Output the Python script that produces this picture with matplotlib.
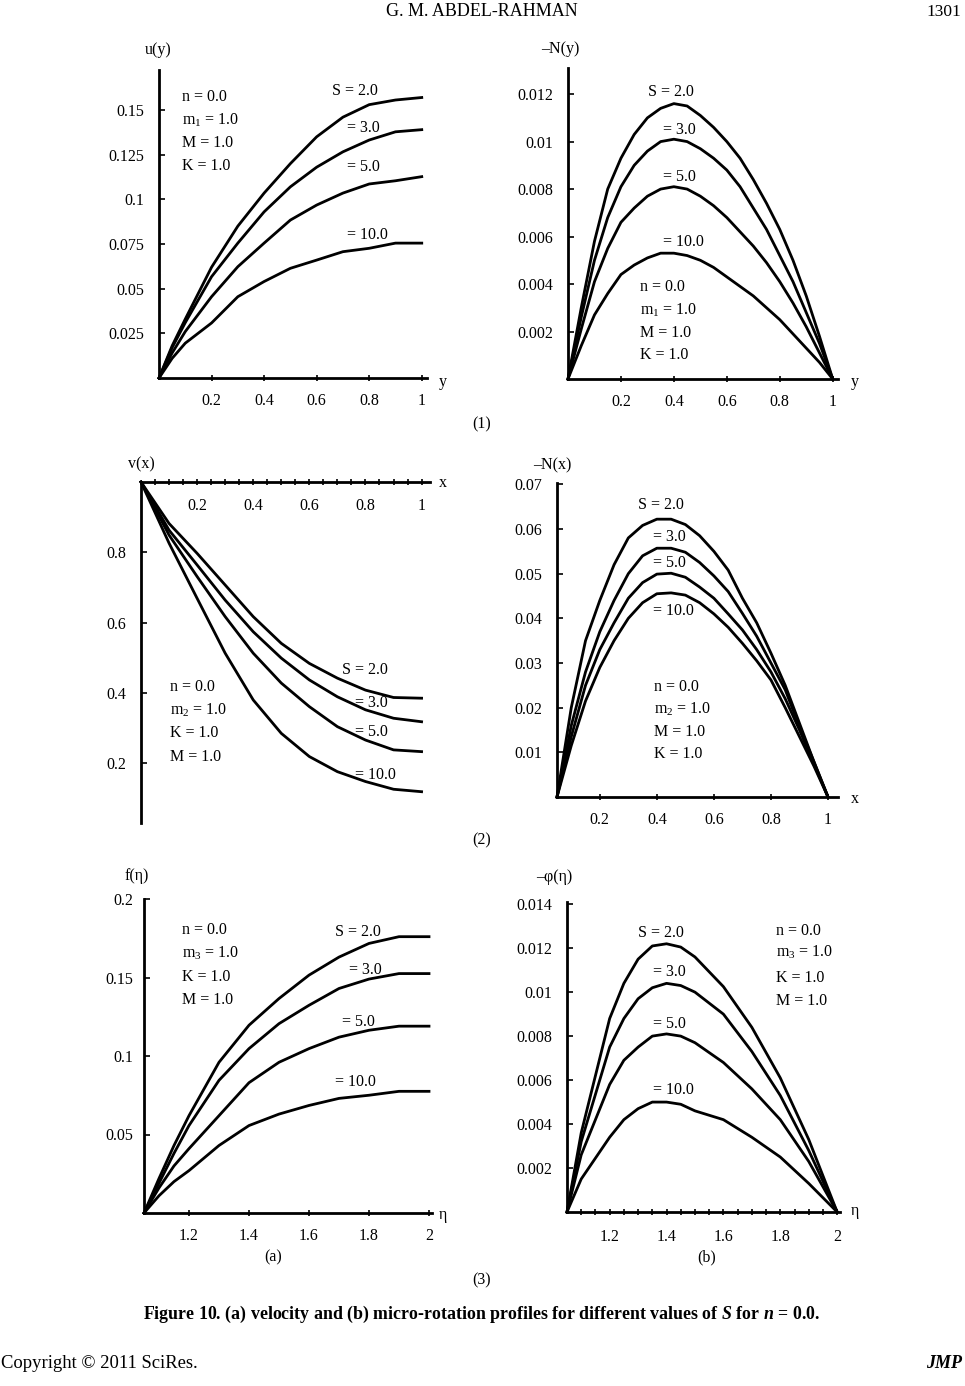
import matplotlib
matplotlib.use("Agg")
import matplotlib.pyplot as plt

plt.rcParams['font.family'] = ['Liberation Serif', 'DejaVu Serif']
plt.rcParams['mathtext.fontset'] = 'custom'
plt.rcParams['mathtext.rm'] = 'Liberation Serif'
plt.rcParams['mathtext.it'] = 'Liberation Serif:italic:bold'
plt.rcParams['mathtext.bf'] = 'Liberation Serif:bold'

W, H = 965, 1386
FS = 11.5

# ---------------- data ----------------
S_labels = ["S = 2.0", "= 3.0", "= 5.0", "= 10.0"]

# (1a) u(y)
y1 = [0.0, 0.05, 0.1, 0.2, 0.3, 0.4, 0.5, 0.6, 0.7, 0.8, 0.9, 1.0]
u_S2 = [0, 0.018, 0.033, 0.062, 0.085, 0.1035, 0.120, 0.135, 0.146, 0.153, 0.1556, 0.157]
u_S3 = [0, 0.017, 0.031, 0.0567, 0.0755, 0.093, 0.107, 0.118, 0.1266, 0.1332, 0.1378, 0.139]
u_S5 = [0, 0.014, 0.026, 0.0455, 0.0623, 0.0755, 0.0884, 0.0968, 0.1035, 0.1086, 0.1104, 0.1127]
u_S10 = [0, 0.011, 0.0195, 0.0308, 0.0455, 0.054, 0.0614, 0.066, 0.0707, 0.0726, 0.0755, 0.0755]

# (1b) -N(y)
y2 = [0.0, 0.05, 0.1, 0.15, 0.2, 0.25, 0.3, 0.35, 0.4, 0.45, 0.5, 0.55, 0.6, 0.65,
      0.7, 0.75, 0.8, 0.85, 0.9, 0.95, 1.0]
Ny_S2 = [0, 0.0030, 0.0058, 0.0080, 0.0093, 0.0103, 0.0110, 0.0114, 0.0116, 0.0115,
         0.0111, 0.0106, 0.0100, 0.0093, 0.0084, 0.0074, 0.0063, 0.0050, 0.0035, 0.0018, 0]
Ny_S3 = [0, 0.0026, 0.0050, 0.0068, 0.0081, 0.0090, 0.0096, 0.0100, 0.0101, 0.0100,
         0.0097, 0.0093, 0.0088, 0.0081, 0.0072, 0.0063, 0.0052, 0.0041, 0.0028, 0.0015, 0]
Ny_S5 = [0, 0.0021, 0.0041, 0.0055, 0.0066, 0.0072, 0.0077, 0.0080, 0.0081, 0.0080,
         0.0077, 0.0073, 0.0068, 0.0062, 0.0056, 0.0049, 0.0041, 0.0032, 0.0022, 0.0011, 0]
Ny_S10 = [0, 0.0014, 0.0027, 0.0036, 0.0044, 0.0048, 0.0051, 0.0053, 0.0053, 0.0052,
          0.0050, 0.0047, 0.0043, 0.0039, 0.0035, 0.0030, 0.0025, 0.0019, 0.0013, 0.0007, 0]

# (2a) v(x)
x3 = [0.0, 0.1, 0.2, 0.3, 0.4, 0.5, 0.6, 0.7, 0.8, 0.9, 1.0]
v_S2 = [1.0, 0.882, 0.797, 0.707, 0.617, 0.541, 0.484, 0.442, 0.408, 0.387, 0.385]
v_S3 = [1.0, 0.863, 0.764, 0.664, 0.574, 0.499, 0.437, 0.389, 0.352, 0.328, 0.318]
v_S5 = [1.0, 0.849, 0.731, 0.617, 0.513, 0.428, 0.361, 0.304, 0.266, 0.238, 0.233]
v_S10 = [1.0, 0.826, 0.669, 0.513, 0.380, 0.285, 0.219, 0.176, 0.148, 0.126, 0.119]

# (2b) -N(x)
x4 = [0.05, 0.1, 0.15, 0.2, 0.25, 0.3, 0.35, 0.4, 0.45, 0.5, 0.55, 0.6, 0.65, 0.7,
      0.75, 0.8, 0.85, 0.9, 0.95, 1.0]
Nx_S2 = [0, 0.020, 0.035, 0.044, 0.052, 0.058, 0.0608, 0.0622, 0.0622, 0.061, 0.0585,
         0.055, 0.0508, 0.0445, 0.039, 0.0322, 0.025, 0.0165, 0.008, 0]
Nx_S3 = [0, 0.016, 0.028, 0.037, 0.044, 0.050, 0.054, 0.0557, 0.0557, 0.0548, 0.0525,
         0.0495, 0.046, 0.0411, 0.036, 0.030, 0.024, 0.0157, 0.008, 0]
Nx_S5 = [0, 0.0135, 0.025, 0.033, 0.039, 0.0445, 0.048, 0.0499, 0.0501, 0.0492, 0.047,
         0.0445, 0.041, 0.0374, 0.033, 0.028, 0.022, 0.015, 0.0075, 0]
Nx_S10 = [0, 0.0115, 0.0215, 0.029, 0.035, 0.040, 0.0435, 0.0455, 0.0457, 0.0452, 0.0435,
          0.041, 0.038, 0.0344, 0.0305, 0.0262, 0.020, 0.0135, 0.007, 0]

# (3a) f(eta)
eta5 = [1.05, 1.1, 1.15, 1.2, 1.3, 1.4, 1.5, 1.6, 1.7, 1.8, 1.9, 2.0]
f_S2 = [0, 0.022, 0.043, 0.062, 0.096, 0.1196, 0.1366, 0.1515, 0.163, 0.1717, 0.176, 0.176]
f_S3 = [0, 0.019, 0.038, 0.0557, 0.0845, 0.1047, 0.1206, 0.1323, 0.143, 0.149, 0.1525, 0.1525]
f_S5 = [0, 0.016, 0.030, 0.041, 0.062, 0.083, 0.096, 0.1047, 0.112, 0.1164, 0.119, 0.119]
f_S10 = [0, 0.011, 0.020, 0.027, 0.043, 0.0557, 0.063, 0.0685, 0.073, 0.075, 0.0775, 0.0775]

# (3b) -phi(eta)
eta6 = [1.05, 1.1, 1.2, 1.25, 1.3, 1.35, 1.4, 1.45, 1.5, 1.6, 1.7, 1.8, 1.9, 2.0]
phi_S2 = [0, 0.0036, 0.0088, 0.0104, 0.0115, 0.0121, 0.0122, 0.01205, 0.0116, 0.01025,
          0.0084, 0.0061, 0.0033, 0]
phi_S3 = [0, 0.0032, 0.0075, 0.0088, 0.0097, 0.0102, 0.0104, 0.0103, 0.0100, 0.0090,
          0.0073, 0.0053, 0.0028, 0]
phi_S5 = [0, 0.0026, 0.0058, 0.0069, 0.0075, 0.0080, 0.0081, 0.0080, 0.0077, 0.0068,
          0.0056, 0.0042, 0.0023, 0]
phi_S10 = [0, 0.0015, 0.0034, 0.0042, 0.0047, 0.0050, 0.0050, 0.0049, 0.0046, 0.0042,
           0.0034, 0.0025, 0.0013, 0]

# ticks
xt_01 = [0.2, 0.4, 0.6, 0.8, 1.0]
xtl_01 = ["0.2", "0.4", "0.6", "0.8", "1"]
xt_eta = [1.2, 1.4, 1.6, 1.8, 2.0]
xtl_eta = ["1.2", "1.4", "1.6", "1.8", "2"]
yt1 = [0.025, 0.05, 0.075, 0.1, 0.125, 0.15]
ytl1 = ["0.025", "0.05", "0.075", "0.1", "0.125", "0.15"]
yt2 = [0.002, 0.004, 0.006, 0.008, 0.01, 0.012]
ytl2 = ["0.002", "0.004", "0.006", "0.008", "0.01", "0.012"]
yt3 = [0.2, 0.4, 0.6, 0.8]
ytl3 = ["0.2", "0.4", "0.6", "0.8"]
yt4 = [0.01, 0.02, 0.03, 0.04, 0.05, 0.06, 0.07]
ytl4 = ["0.01", "0.02", "0.03", "0.04", "0.05", "0.06", "0.07"]
yt5 = [0.05, 0.1, 0.15, 0.2]
ytl5 = ["0.05", "0.1", "0.15", "0.2"]
yt6 = [0.002, 0.004, 0.006, 0.008, 0.01, 0.012, 0.014]
ytl6 = ["0.002", "0.004", "0.006", "0.008", "0.01", "0.012", "0.014"]

# ---------------- drawing ----------------
fig = plt.figure(figsize=(W / 100, H / 100), dpi=100)
fig.patch.set_facecolor('white')


def fx(x):
    return x / W


def fy(y):
    return 1 - y / H


def ptext(x, y, s, ha='left', va='center', size=FS, **kw):
    fig.text(fx(x), fy(y), s, ha=ha, va=va, fontsize=size, **kw)


def make_ax(x0, x1, ytop, ybot, xlim, ylim, xt, xtl, yt, ytl,
            minor=None, xaxis_at=None, ypad=10.5, xpad=8.5):
    ax = fig.add_axes([fx(x0), fy(ybot), (x1 - x0) / W, (ybot - ytop) / H])
    ax.set_xlim(*xlim)
    ax.set_ylim(*ylim)
    for s in ['top', 'right']:
        ax.spines[s].set_visible(False)
    for s in ['left', 'bottom']:
        ax.spines[s].set_linewidth(2.0)
    if xaxis_at is not None:
        ax.spines['bottom'].set_position(('data', xaxis_at))
    ax.set_xticks(xt)
    ax.set_xticklabels(xtl)
    ax.set_yticks(yt)
    ax.set_yticklabels(ytl)
    if minor is not None:
        ax.set_xticks(minor, minor=True)
        ax.tick_params(axis='x', which='minor', direction='inout', length=4, width=1.2)
    ax.tick_params(axis='x', which='major', direction='inout', length=5, width=1.2,
                   labelsize=FS, pad=xpad)
    ax.tick_params(axis='y', which='major', direction='in', length=4, width=1.2,
                   labelsize=FS, pad=ypad)
    ax.patch.set_alpha(0)
    return ax


LW = 2.0

# Panel (1a)
ax1 = make_ax(159, 427, 70, 378, (0, 1.02), (0, 0.1724), xt_01, xtl_01, yt1, ytl1)
for ys in (u_S2, u_S3, u_S5, u_S10):
    ax1.plot(y1, ys, color='black', lw=LW, clip_on=False)

# Panel (1b)
ax2 = make_ax(568, 838, 68, 379, (0, 1.02), (0, 0.0131), xt_01, xtl_01, yt2, ytl2)
for ys in (Ny_S2, Ny_S3, Ny_S5, Ny_S10):
    ax2.plot(y2, ys, color='black', lw=LW, clip_on=False)

# Panel (2a)
minor3 = [i * 0.05 for i in range(1, 21)]
ax3 = make_ax(141, 430, 482, 823, (0, 1.03), (0.03, 1.0), xt_01, xtl_01, yt3, ytl3,
              minor=minor3, xaxis_at=1.0, xpad=9)
for ys in (v_S2, v_S3, v_S5, v_S10):
    ax3.plot(x3, ys, color='black', lw=LW, clip_on=False)

# Panel (2b)
ax4 = make_ax(557, 838, 483, 797, (0.05, 1.035), (0, 0.0703), xt_01, xtl_01, yt4, ytl4)
for ys in (Nx_S2, Nx_S3, Nx_S5, Nx_S10):
    ax4.plot(x4, ys, color='black', lw=LW, clip_on=False)

# Panel (3a)
ax5 = make_ax(144, 432, 899, 1213, (1.05, 2.01), (0, 0.2), xt_eta, xtl_eta, yt5, ytl5,
              ypad=8)
for ys in (f_S2, f_S3, f_S5, f_S10):
    ax5.plot(eta5, ys, color='black', lw=LW, clip_on=False)

# Panel (3b)
minor6 = [1.05 + i * 0.05 for i in range(1, 20)]
ax6 = make_ax(567, 840, 902, 1212, (1.05, 2.01), (0, 0.0141), xt_eta, xtl_eta, yt6, ytl6,
              minor=minor6, xpad=10)
for ys in (phi_S2, phi_S3, phi_S5, phi_S10):
    ax6.plot(eta6, ys, color='black', lw=LW, clip_on=False)

# ---------------- texts ----------------
# axis names
ptext(158, 50, "u(y)", ha='center')
ptext(443, 382, "y", ha='center')
ptext(560, 49, "\u2013N(y)", ha='center')
ptext(855, 382, "y", ha='center')
ptext(141, 464, "v(x)", ha='center')
ptext(443, 483, "x", ha='center')
ptext(552, 465, "\u2013N(x)", ha='center')
ptext(855, 799, "x", ha='center')
ptext(137, 876, "f(\u03b7)", ha='center')
ptext(443, 1215, "\u03b7", ha='center')
ptext(554, 877, "\u2013\u03c6(\u03b7)", ha='center')
ptext(855, 1211, "\u03b7", ha='center')

# S labels
S_pos = [
    [(332, 91), (347, 128), (347, 167), (347, 235)],
    [(648, 92), (663, 130), (663, 177), (663, 242)],
    [(342, 670), (355, 703), (355, 732), (355, 775)],
    [(638, 505), (653, 537), (653, 563), (653, 611)],
    [(335, 932), (349, 970), (342, 1022), (335, 1082)],
    [(638, 933), (653, 972), (653, 1024), (653, 1090)],
]
for plist in S_pos:
    for (px, py), lab in zip(plist, S_labels):
        ptext(px, py, lab)

# parameter blocks
params = [
    ((182, [97, 120, 143, 166]), ["n = 0.0", "m$_1$ = 1.0", "M = 1.0", "K = 1.0"]),
    ((640, [287, 310, 333, 355]), ["n = 0.0", "m$_1$ = 1.0", "M = 1.0", "K = 1.0"]),
    ((170, [687, 710, 733, 757]), ["n = 0.0", "m$_2$ = 1.0", "K = 1.0", "M = 1.0"]),
    ((654, [687, 709, 732, 754]), ["n = 0.0", "m$_2$ = 1.0", "M = 1.0", "K = 1.0"]),
    ((182, [930, 953, 977, 1000]), ["n = 0.0", "m$_3$ = 1.0", "K = 1.0", "M = 1.0"]),
    ((776, [931, 952, 978, 1001]), ["n = 0.0", "m$_3$ = 1.0", "K = 1.0", "M = 1.0"]),
]
for (px, ys), labs in params:
    for py, lab in zip(ys, labs):
        ptext(px, py, lab)

# page texts
ptext(482, 11, "G. M. ABDEL-RAHMAN", ha='center', size=13)
ptext(961, 12, "1301", ha='right', size=12.5)
ptext(482, 424, "(1)", ha='center')
ptext(482, 840, "(2)", ha='center')
ptext(482, 1280, "(3)", ha='center')
ptext(273, 1257, "(a)", ha='center')
ptext(707, 1257, "(b)", ha='center')
ptext(482, 1314, "Figure 10. (a) velocity and (b) micro-rotation profiles for different "
      "values of $\\mathit{S}$ for $\\mathit{n}$ = 0.0.", ha='center', size=12.9,
      fontweight='bold')
ptext(1, 1363, "Copyright \u00a9 2011 SciRes.", ha='left', size=13.4)
ptext(962, 1363, "JMP", ha='right', size=13, fontweight='bold', fontstyle='italic')

fig.savefig("out.png", dpi=100, facecolor='white')
